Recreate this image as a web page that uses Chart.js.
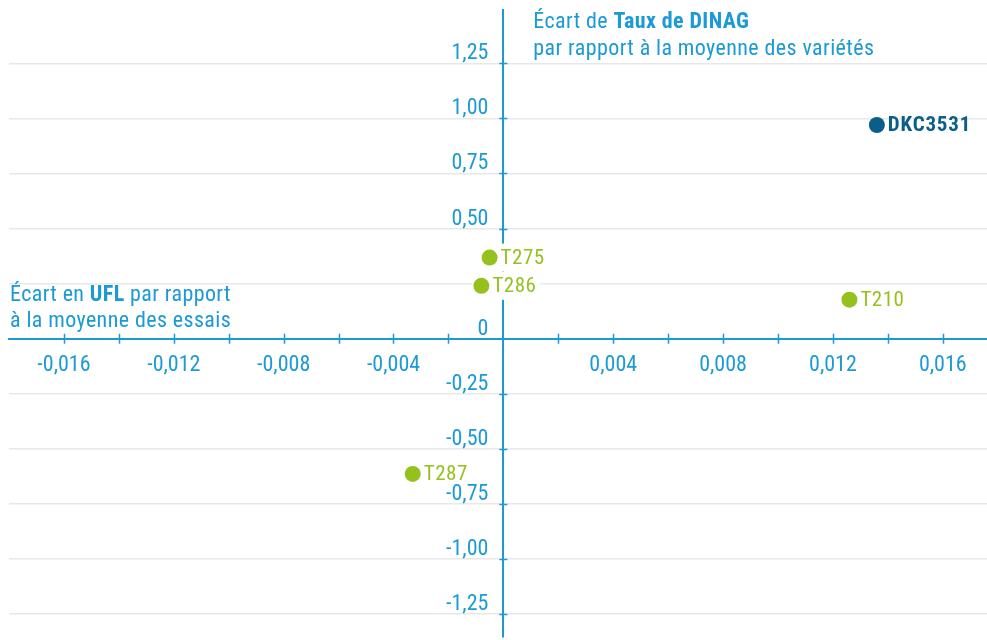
<!DOCTYPE html>
<html lang="fr">
<head>
<meta charset="utf-8">
<script src="https://cdn.jsdelivr.net/npm/chart.js@4/dist/chart.umd.min.js"></script>
<style>
  html, body { margin: 0; padding: 0; background: #fff; overflow: hidden; }
  canvas { display: block; }
</style>
</head>
<body>
<canvas id="ecarts" width="987" height="640"></canvas>
<script>
// variétés et écarts (UFL en x, taux de DINAG en y)
const varietes = ["DKC3531", "T210", "T275", "T286", "T287"];
const ecartUFL = [0.0136, 0.0126, -0.0005, -0.0008, -0.0033];
const ecartDINAG = [0.97, 0.177, 0.368, 0.24, -0.614];
const varieteReference = "DKC3531";

const xTicks = [-0.016, -0.014, -0.012, -0.010, -0.008, -0.006, -0.004, -0.002, 0,
                0.002, 0.004, 0.006, 0.008, 0.010, 0.012, 0.014, 0.016];
const xTickLabels = ["-0,016", "", "-0,012", "", "-0,008", "", "-0,004", "", "",
                     "", "0,004", "", "0,008", "", "0,012", "", "0,016"];
const yTicks = [1.25, 1, 0.75, 0.5, 0.25, 0, -0.25, -0.5, -0.75, -1, -1.25];
const yTickLabels = ["1,25", "1,00", "0,75", "0,50", "", "0", "-0,25", "-0,50", "-0,75", "-1,00", "-1,25"];

const W = 987, H = 640;
const BLEU = "#1b9ad6";
const VERT = "#95c11f";
const BLEU_FONCE = "#0b5e87";
const FONT = '"Liberation Sans Narrow", "Roboto Condensed", Roboto, sans-serif';

const couleurs = varietes.map(v => v === varieteReference ? BLEU_FONCE : VERT);

function policeEtiquette(ctx, nom) {
    const gras = nom === varieteReference;
    ctx.font = (gras ? "bold " : "") + "21px " + FONT;
    ctx.letterSpacing = gras ? "0.8px" : "0.5px";
}

const sansMarges = s => { s.paddingTop = 0; s.paddingBottom = 0; s.paddingLeft = 0; s.paddingRight = 0; };

// graduations qui traversent les axes, étiquettes de l'axe y, titres des axes
const axes = {
    id: "axes",
    beforeDatasetsDraw(chart) {
        const ctx = chart.ctx;
        const sx = chart.scales.x, sy = chart.scales.y;
        const x0 = sx.getPixelForValue(0), y0 = sy.getPixelForValue(0);
        ctx.save();
        ctx.strokeStyle = BLEU;
        ctx.lineWidth = 1.5;
        ctx.beginPath();
        xTicks.forEach(v => {
            if (v === 0) return;
            const px = Math.round(sx.getPixelForValue(v)) + 0.5;
            ctx.moveTo(px, y0 - 5); ctx.lineTo(px, y0 + 5);
        });
        yTicks.forEach(v => {
            if (v === 0) return;
            const py = Math.round(sy.getPixelForValue(v)) + 0.5;
            ctx.moveTo(x0 - 4, py); ctx.lineTo(x0 + 4, py);
        });
        ctx.stroke();

        ctx.fillStyle = BLEU;
        ctx.font = "22px " + FONT;
        ctx.textAlign = "right";
        ctx.textBaseline = "alphabetic";
        yTicks.forEach((v, i) => {
            ctx.fillText(yTickLabels[i], x0 - 15, sy.getPixelForValue(v) - 4);
        });
        ctx.restore();
    },
    afterDraw(chart) {
        const ctx = chart.ctx;
        const x0 = chart.scales.x.getPixelForValue(0);
        function ligne(parts, x, y) {
            parts.forEach(([txt, gras]) => {
                ctx.font = (gras ? "bold " : "") + "22px " + FONT;
                ctx.fillText(txt, x, y);
                x += ctx.measureText(txt).width;
            });
        }
        ctx.save();
        ctx.fillStyle = BLEU;
        ctx.textBaseline = "alphabetic";
        ctx.textAlign = "left";
        ctx.letterSpacing = "0.4px";
        ligne([["Écart de ", false], ["Taux de DINAG", true]], x0 + 30, 28);
        ligne([["par rapport à la moyenne des variétés", false]], x0 + 30, 55);
        ligne([["Écart en ", false], ["UFL", true], [" par rapport", false]], 10, 301);
        ligne([["à la moyenne des essais", false]], 10, 327);
        ctx.restore();
    }
};

const etiquettes = {
    id: "etiquettes",
    beforeDatasetsDraw(chart) {
        const ctx = chart.ctx;
        const x0 = chart.scales.x.getPixelForValue(0);
        ctx.save();
        chart.getDatasetMeta(0).data.forEach((el, i) => {
            policeEtiquette(ctx, varietes[i]);
            const w = ctx.measureText(varietes[i]).width + 24;
            const bx = el.x - 9;
            if (bx < x0 && bx + w > x0) {
                ctx.fillStyle = "#fff";
                ctx.fillRect(bx, el.y - 14, w, 28);
            }
        });
        ctx.restore();
    },
    afterDatasetsDraw(chart) {
        const ctx = chart.ctx;
        ctx.save();
        ctx.textBaseline = "middle";
        ctx.textAlign = "left";
        chart.getDatasetMeta(0).data.forEach((el, i) => {
            policeEtiquette(ctx, varietes[i]);
            ctx.fillStyle = couleurs[i];
            ctx.fillText(varietes[i], el.x + 11, el.y + 1);
        });
        ctx.restore();
    }
};

const chart = new Chart(document.getElementById("ecarts"), {
    type: "scatter",
    data: {
        datasets: [{
            data: varietes.map((v, i) => ({ x: ecartUFL[i], y: ecartDINAG[i] })),
            backgroundColor: couleurs,
            borderWidth: 0,
            pointRadius: 8,
            pointHoverRadius: 8
        }]
    },
    options: {
        responsive: false,
        animation: false,
        events: [],
        layout: { padding: { top: 10, left: 9, right: 0, bottom: 0 } },
        plugins: { legend: { display: false }, tooltip: { enabled: false } },
        scales: {
            x: {
                type: "linear",
                position: { y: 0 },
                min: -0.018,
                max: 0.01761,
                afterBuildTicks: s => { s.ticks = xTicks.map(v => ({ value: v })); },
                afterFit: sansMarges,
                grid: { display: false, drawTicks: false },
                border: { display: true, color: BLEU, width: 2 },
                ticks: {
                    autoSkip: false,
                    maxRotation: 0,
                    padding: 14,
                    color: BLEU,
                    font: { family: FONT, size: 22 },
                    callback: (v, i) => xTickLabels[i]
                }
            },
            y: {
                type: "linear",
                position: { x: 0 },
                min: -1.355,
                max: 1.492,
                afterBuildTicks: s => { s.ticks = yTicks.map(v => ({ value: v })); },
                afterFit: sansMarges,
                grid: { color: "#e8e8e8", lineWidth: 1.5, drawTicks: false },
                border: { display: true, color: BLEU, width: 2 },
                ticks: { display: false }
            }
        }
    },
    plugins: [axes, etiquettes]
});

// la zone de tracé doit aller jusqu'aux bords droit et bas de la fenêtre
const ca = chart.chartArea;
if (ca.right < W - 0.5 || ca.bottom < H - 0.5) {
    chart.resize(W + (W - ca.right), H + (H - ca.bottom));
}
</script>
</body>
</html>
